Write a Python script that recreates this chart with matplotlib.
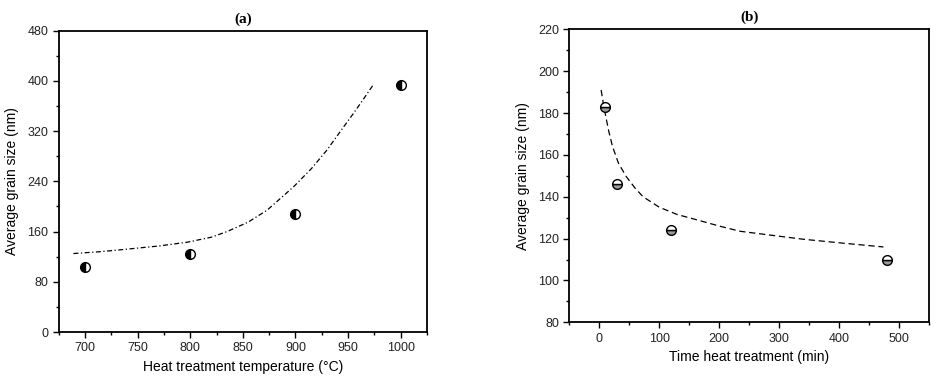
import matplotlib.pyplot as plt
from matplotlib.ticker import MultipleLocator

plt.rcParams['font.family'] = ['Liberation Sans', 'DejaVu Sans']

# (a) grain size vs temperature
temp = [700, 800, 900, 1000]
size_temp = [103, 124, 188, 393]
fit_temp_x = [689, 715, 740, 770, 797, 820, 835, 855, 873, 898, 915, 930, 945, 955, 965, 974]
fit_temp_y = [125, 128, 132, 137, 143, 151, 160, 175, 194, 231, 260, 290, 325, 348, 372, 394]

# (b) grain size vs time
time = [10, 30, 120, 480]
size_time = [183, 146, 124, 110]
fit_time_x = [3, 7, 11, 16, 22, 32, 45, 60, 73, 100, 130, 156, 200, 235, 290, 340, 400, 474]
fit_time_y = [191, 184, 178, 171, 164, 156, 149.6, 144, 140, 135, 131.5, 129.5, 126, 123.5, 121.5, 119.7, 118, 116]

fig = plt.figure(figsize=(9.42, 3.79), dpi=100)
ax1 = fig.add_axes([0.0623, 0.124, 0.391, 0.795])
ax2 = fig.add_axes([0.6044, 0.1496, 0.3818, 0.773])

ax1.plot(fit_temp_x, fit_temp_y, color='black', lw=0.9, dashes=(4, 2, 1, 2))
ax1.plot(temp, size_temp, 'o', ms=7, fillstyle='left', markerfacecolor='black',
         markerfacecoloralt='white', markeredgecolor='black', markeredgewidth=1.0)
ax1.set_xlim(675, 1025)
ax1.set_ylim(0, 480)
ax1.xaxis.set_major_locator(MultipleLocator(50))
ax1.xaxis.set_minor_locator(MultipleLocator(25))
ax1.yaxis.set_major_locator(MultipleLocator(80))
ax1.yaxis.set_minor_locator(MultipleLocator(40))
ax1.set_xlabel('Heat treatment temperature (°C)', fontsize=10, labelpad=4)
ax1.set_ylabel('Average grain size (nm)', fontsize=10, labelpad=6)
ax1.set_title('(a)', fontsize=11, fontweight='bold', family='Liberation Serif', pad=6)

ax2.plot(fit_time_x, fit_time_y, color='black', lw=0.9, dashes=(5, 3))
ax2.plot(time, size_time, 'o', ms=7, fillstyle='bottom', markerfacecolor='#9a9a9a',
         markerfacecoloralt='white', markeredgecolor='black', markeredgewidth=1.0)
ax2.set_xlim(-50, 550)
ax2.set_ylim(80, 220)
ax2.xaxis.set_major_locator(MultipleLocator(100))
ax2.xaxis.set_minor_locator(MultipleLocator(50))
ax2.yaxis.set_major_locator(MultipleLocator(20))
ax2.yaxis.set_minor_locator(MultipleLocator(10))
ax2.set_xlabel('Time heat treatment (min)', fontsize=10, labelpad=4)
ax2.set_ylabel('Average grain size (nm)', fontsize=10, labelpad=6)
ax2.set_title('(b)', fontsize=11, fontweight='bold', family='Liberation Serif', pad=6)

for ax in (ax1, ax2):
    for s in ax.spines.values():
        s.set_linewidth(1.3)
    ax.tick_params(which='major', direction='out', length=4, width=1.0, labelsize=9,
                   labelcolor='#222222')
    ax.tick_params(which='minor', direction='out', length=2.5, width=1.0)

fig.savefig('out.png', dpi=100)
